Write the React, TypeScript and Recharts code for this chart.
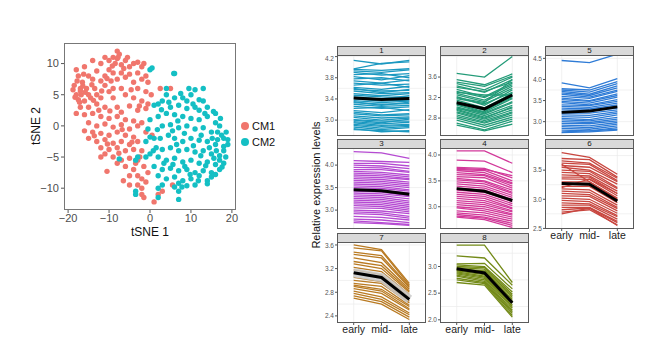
import React from "react";
import {
  ScatterChart,
  Scatter,
  XAxis,
  YAxis,
  ComposedChart,
  Line,
  CartesianGrid,
} from "recharts";

const FONT = '"Liberation Sans", Arial, Helvetica, sans-serif';

// tSNE coordinates
const cm1Points: [number, number][] = [
  [-8, 12], [-7.5, 11.5], [-9, 11], [-8, 10.8], [-11, 11], [-10, 10.5], [-14, 10.5], [-12, 10],
  [-6, 10.5], [-5.5, 11], [-4, 10], [-3, 10.2], [-1.5, 10], [-2, 9.5], [-8.5, 10], [-7, 9.8],
  [-16, 9.5], [-18, 9], [-17.5, 8], [-13, 8.8], [-10, 9], [-9, 8.5], [-7, 8.5], [-5, 8.3],
  [-3, 8.5], [-1, 8], [-0.5, 7], [-2, 7.5], [-4, 7], [-6, 7.8], [-11, 8], [-12, 7.2],
  [-14, 7.5], [-15, 8], [-16.5, 7], [-18.5, 6.5], [-17, 6], [-15.5, 6], [-13.5, 6], [-11, 6.5],
  [-9, 6], [-10, 5.5], [-7, 6], [-3, 6], [-1, 5.5], [0.3, 5], [2.5, 6], [5, 6],
  [-18, 5], [-16.8, 5], [-17.5, 4.2], [-16, 4], [-14.5, 4.5], [-12, 4.5], [-9, 4.5], [-6, 5],
  [-4, 4.5], [-2, 4], [-0.5, 3.5], [-17, 3], [-15, 3], [-13, 3.5], [-11, 3], [-8, 3],
  [-5, 3.2], [-3, 2.5], [-1, 2.8], [-18, 2], [-16, 1.8], [-14, 2], [-12, 1.5], [-10, 1.2],
  [-8, 1.5], [-6, 1], [-4, 0.8], [-2, 0.5], [-15, 0.5], [-13, 0], [-11, 0.3], [-9, -0.2],
  [-7, 0.2], [-5, -0.5], [-3, 0], [-16, -0.8], [-14, -1], [-12, -1.2], [-10, -1.5], [-8, -1],
  [-6, -1.5], [-4, -1.8], [-1, -1], [0.5, -1.5], [-15, -2], [-13, -2.5], [-11, -2.2], [-9, -2.8],
  [-7, -2.5], [-5, -3], [-3, -2.5], [-12, -3.5], [-10, -3.8], [-8, -3.5], [-6, -4], [-4, -3.8],
  [-2, -4], [-9, -5], [-7, -5.5], [-5, -5.2], [-3, -5.5], [-8, -6], [-6, -6.5], [-4, -7],
  [-3.5, -6], [-10.5, -7.3], [-5, -8], [-3, -8], [-2, -8.5], [-6.5, -8.8], [-5, -9.5], [-3, -9.5],
  [-1, -9], [-2, -10], [-2, -11], [-1.5, -11.5], [1, -12.2], [2, -11], [3, -10.5], [5.5, -9.5],
  [-0.5, -7.5], [-1.5, -6.5], [-2.5, -5], [-12, -5], [-11, -4.5], [-17.8, 7.2], [-16.2, 8.3],
  [-18.8, 5.8], [-15, 5], [-13, 5], [-8, 7.5], [-5, 9.5], [-9.5, 7.2], [-12.5, 2.5], [-7, 2.2],
  [-17, 5.6], [-16.4, 6.4], [-18.3, 4.6], [-17.2, 3.8], [-15.8, 5.4], [-14.2, 6.6], [-13.8, 4.1],
  [-11.8, 5.6], [-10.5, 7.6], [-9.2, 9.6], [-7.8, 11], [-6.4, 9.2], [-4.6, 5.8], [-2.6, 3.2],
  [-9.8, 2.4], [-6.8, -0.6], [-10.4, -2.9], [-7.6, -4.4], [-13.6, -1.6], [-4.4, -2.6],
];

const cm2Points: [number, number][] = [
  [0.5, 9.3], [0, 9], [6, 8.4], [5.8, 8.4], [11, 5.8], [13, 6], [4, 5], [6, 4.5],
  [8, 4.5], [9, 4], [10, 5], [3, 4], [2, 3.5], [1, 3.3], [5, 3], [7, 3.3],
  [9, 2.8], [11, 3], [12, 2.5], [14, 3], [15.5, 2.3], [0, 1], [2, 1.5], [4, 2],
  [6, 1.8], [8, 1.5], [10, 1.2], [12, 1], [14, 1.5], [16, 0.5], [17, 0], [3, 0],
  [5, 0.2], [7, -0.3], [9, 0], [11, -0.5], [13, -0.3], [15, -1], [17.5, -1.5], [18, -2],
  [19, -2.2], [1, -2], [2.5, -2], [4.5, -1.5], [6, -2], [8, -2.5], [10, -2], [12, -2.3],
  [14, -2.5], [16, -3], [18, -3.3], [0, -1.8], [-1, -2.5], [1.5, -3.5], [3, -3.8], [5, -3.5],
  [7, -4], [9, -3.8], [11, -4.2], [13, -4], [15, -4.5], [17, -4.8], [18.5, -5], [2, -5],
  [4, -5.5], [6, -5.2], [8, -5.8], [10, -5.5], [12, -6], [14, -5.8], [16, -6.2], [18, -6],
  [1, -6.5], [3, -7], [5, -6.8], [7, -7.2], [9, -7], [11, -7.5], [13, -7.2], [15, -7.5],
  [17, -7], [2, -8], [4, -8.5], [6, -8.2], [8, -8.8], [10, -8.5], [12, -8], [14, -8.8],
  [15, -8.2], [16, -7.8], [3, -9.5], [6, -9.8], [7, -9.2], [9, -9.6], [11, -9.5], [14, -9.3],
  [2, -10], [7, -10.5], [-3.5, -10.5], [-3.5, -11], [2, -11.5], [7, -11.8], [-3, -5], [-3.5, -5.5],
  [-7.5, -5.3], [-1, -5], [0, -4.5], [0.8, -4], [10.5, 3.5], [13, 4], [16, 2], [18, -4],
  [17, -5.5], [19, -3], [16.5, -1], [12.5, -1.5], [5.5, -0.8], [-0.5, -0.5], [4, 6], [7.5, 5.2],
  [9.5, 6], [12, 4.2], [16.5, -2.2], [14.5, -3.5], [6.5, -3], [8.5, -6.5],
  [15.6, -5.2], [17.6, -6.6], [16.2, -4], [18.6, -1], [17.2, 1.2], [15.2, -2], [13.6, -6.4],
  [12.4, -4.8], [10.6, -3.2], [8.4, -1.2], [6.8, 0.8], [4.6, 3.8], [5.6, -6.2], [3.4, -6],
  [7.8, -9.8], [11.8, -8.8], [9.8, -7.8], [1.8, -0.6], [2.8, 2.6], [13.4, 2],
];

const stageLabels = ["early", "mid-", "late"];

// expression profiles per cluster: [early, mid-, late]
const cluster1Lines = [
  [4.13, 4.06, 4.13], [3.97, 4.07, 4.1], [3.96, 3.94, 3.97], [3.93, 3.9, 3.95], [3.9, 3.85, 3.88],
  [3.86, 3.88, 3.8], [3.82, 3.76, 3.84], [3.78, 3.8, 3.74], [3.74, 3.7, 3.76], [3.7, 3.66, 3.68],
  [3.66, 3.7, 3.62], [3.62, 3.58, 3.64], [3.58, 3.55, 3.56], [3.55, 3.5, 3.52], [3.5, 3.46, 3.5],
  [3.47, 3.44, 3.43], [3.44, 3.4, 3.46], [3.4, 3.36, 3.38], [3.37, 3.33, 3.36], [3.33, 3.3, 3.31],
  [3.3, 3.26, 3.28], [3.26, 3.22, 3.25], [3.22, 3.24, 3.18], [3.18, 3.14, 3.2], [3.15, 3.1, 3.12],
  [3.12, 3.08, 3.1], [3.08, 3.04, 3.06], [3.05, 3.0, 3.04], [3.01, 2.98, 2.98], [2.97, 2.93, 2.96],
  [2.95, 2.9, 2.92], [2.92, 2.88, 2.9], [2.9, 2.85, 2.88], [2.87, 2.82, 2.86], [2.84, 2.78, 2.8],
  [2.82, 2.8, 2.78], [3.6, 3.52, 3.58], [3.35, 3.28, 3.34], [3.0, 2.95, 3.02],
];
const cluster1Mean = [3.42, 3.39, 3.41];

const cluster2Lines = [
  [3.67, 3.6, 4.0], [3.55, 3.45, 3.66], [3.5, 3.42, 3.62], [3.47, 3.35, 3.6], [3.43, 3.3, 3.55],
  [3.4, 3.32, 3.5], [3.36, 3.22, 3.48], [3.32, 3.2, 3.45], [3.28, 3.15, 3.42], [3.25, 3.12, 3.38],
  [3.22, 3.05, 3.35], [3.18, 3.08, 3.3], [3.15, 3.0, 3.28], [3.12, 2.98, 3.22], [3.1, 2.95, 3.2],
  [3.07, 2.92, 3.18], [3.05, 2.9, 3.12], [3.02, 2.88, 3.1], [3.0, 2.85, 3.05], [2.97, 2.82, 3.0],
  [2.95, 2.8, 3.02], [2.92, 2.78, 2.96], [2.9, 2.75, 2.92], [2.86, 2.72, 2.9], [2.83, 2.7, 2.86],
  [2.8, 2.66, 2.82], [2.76, 2.62, 2.78], [2.7, 2.57, 2.74], [2.66, 2.55, 2.68], [3.2, 3.1, 3.55],
  [2.98, 2.92, 3.3], [3.3, 3.25, 3.25],
];
const cluster2Mean = [3.1, 2.98, 3.25];

const cluster5Lines = [
  [4.45, 4.4, 4.6], [3.92, 3.8, 4.02], [3.78, 3.75, 3.95], [3.75, 3.7, 3.9], [3.72, 3.65, 3.85],
  [3.68, 3.62, 3.8], [3.65, 3.58, 3.75], [3.6, 3.55, 3.72], [3.56, 3.5, 3.66], [3.52, 3.48, 3.62],
  [3.48, 3.44, 3.58], [3.45, 3.4, 3.52], [3.4, 3.38, 3.48], [3.36, 3.34, 3.44], [3.32, 3.3, 3.4],
  [3.28, 3.27, 3.36], [3.24, 3.25, 3.32], [3.2, 3.2, 3.28], [3.16, 3.15, 3.24], [3.12, 3.1, 3.2],
  [3.08, 3.05, 3.16], [3.04, 3.02, 3.1], [3.0, 2.98, 3.06], [2.96, 2.95, 3.02], [2.92, 2.9, 2.98],
  [2.88, 2.86, 2.94], [2.84, 2.82, 2.9], [2.8, 2.78, 2.86], [2.76, 2.78, 2.82], [2.74, 2.76, 2.8],
];
const cluster5Mean = [3.22, 3.25, 3.35];

const cluster3Lines = [
  [4.3, 4.27, 4.15], [4.1, 4.08, 4.06], [4.04, 4.04, 3.98], [4.0, 3.98, 3.92], [3.95, 3.94, 3.86],
  [3.9, 3.9, 3.84], [3.86, 3.84, 3.78], [3.82, 3.8, 3.74], [3.78, 3.76, 3.7], [3.74, 3.72, 3.68],
  [3.7, 3.68, 3.62], [3.66, 3.64, 3.58], [3.62, 3.6, 3.54], [3.58, 3.56, 3.5], [3.54, 3.52, 3.45],
  [3.5, 3.48, 3.42], [3.46, 3.44, 3.38], [3.42, 3.4, 3.32], [3.38, 3.36, 3.3], [3.34, 3.32, 3.25],
  [3.3, 3.28, 3.2], [3.26, 3.24, 3.16], [3.22, 3.2, 3.12], [3.18, 3.16, 3.08], [3.14, 3.12, 3.04],
  [3.1, 3.08, 3.0], [3.05, 3.04, 2.96], [3.0, 2.98, 2.92], [2.96, 2.94, 2.86], [2.92, 2.9, 2.82],
  [2.86, 2.84, 2.78], [2.8, 2.78, 2.72], [2.76, 2.72, 2.68], [2.72, 2.7, 2.66],
];
const cluster3Mean = [3.45, 3.43, 3.35];

const cluster4Lines = [
  [4.08, 4.08, 3.84], [3.9, 3.88, 3.66], [3.76, 3.74, 3.56], [3.74, 3.72, 3.6], [3.72, 3.7, 3.5],
  [3.7, 3.66, 3.46], [3.66, 3.62, 3.44], [3.62, 3.6, 3.4], [3.58, 3.56, 3.36], [3.55, 3.5, 3.32],
  [3.52, 3.48, 3.28], [3.48, 3.44, 3.26], [3.44, 3.4, 3.22], [3.4, 3.36, 3.18], [3.36, 3.32, 3.14],
  [3.32, 3.28, 3.1], [3.28, 3.24, 3.06], [3.24, 3.2, 3.02], [3.2, 3.16, 2.98], [3.16, 3.12, 2.96],
  [3.12, 3.08, 2.92], [3.08, 3.04, 2.9], [3.04, 3.0, 2.86], [3.0, 2.96, 2.84], [2.98, 2.92, 2.8],
  [2.92, 2.88, 2.76], [2.88, 2.84, 2.72], [2.85, 2.8, 2.68], [2.82, 2.78, 2.64], [2.8, 2.75, 2.6],
];
const cluster4Mean = [3.35, 3.3, 3.12];

const cluster6Lines = [
  [3.8, 3.72, 3.43], [3.7, 3.68, 3.38], [3.66, 3.62, 3.36], [3.62, 3.6, 3.32], [3.58, 3.55, 3.3],
  [3.55, 3.5, 3.26], [3.5, 3.48, 3.2], [3.46, 3.44, 3.18], [3.42, 3.4, 3.14], [3.38, 3.38, 3.1],
  [3.35, 3.34, 3.06], [3.3, 3.3, 3.02], [3.26, 3.25, 2.98], [3.22, 3.22, 2.94], [3.18, 3.16, 2.9],
  [3.14, 3.12, 2.86], [3.1, 3.08, 2.84], [3.06, 3.05, 2.8], [3.02, 3.0, 2.76], [2.98, 2.96, 2.72],
  [2.94, 2.92, 2.7], [2.9, 2.9, 2.66], [2.86, 2.86, 2.62], [2.82, 2.85, 2.6], [2.78, 2.82, 2.56],
  [2.75, 2.85, 2.55], [3.6, 3.3, 3.0], [3.2, 3.35, 3.1],
];
const cluster6Mean = [3.27, 3.26, 2.97];

const cluster7Lines = [
  [3.6, 3.52, 2.95], [3.55, 3.5, 2.92], [3.48, 3.42, 2.9], [3.44, 3.38, 2.88], [3.38, 3.3, 2.85],
  [3.32, 3.25, 2.82], [3.28, 3.2, 2.8], [3.22, 3.15, 2.76], [3.18, 3.1, 2.72], [3.12, 3.05, 2.7],
  [3.05, 2.98, 2.65], [3.0, 2.95, 2.62], [2.95, 2.9, 2.58], [2.92, 2.85, 2.56], [2.9, 2.82, 2.52],
  [2.86, 2.78, 2.5], [2.82, 2.72, 2.45], [2.78, 2.68, 2.42], [2.74, 2.64, 2.38], [2.7, 2.6, 2.34],
];
const cluster7Mean = [3.13, 3.05, 2.68];

const cluster8Lines = [
  [3.4, 3.4, 2.7], [3.2, 3.16, 2.65], [3.05, 3.06, 2.58], [3.03, 3.0, 2.52], [3.0, 2.98, 2.48],
  [2.98, 2.95, 2.45], [2.96, 2.92, 2.42], [2.95, 2.9, 2.38], [2.93, 2.88, 2.35], [2.92, 2.85, 2.32],
  [2.9, 2.82, 2.28], [2.88, 2.8, 2.25], [2.86, 2.78, 2.22], [2.84, 2.75, 2.18], [2.82, 2.72, 2.15],
  [2.78, 2.7, 2.12], [2.75, 2.68, 2.08], [2.7, 2.65, 2.05],
];
const cluster8Mean = [2.96, 2.88, 2.32];

// facet grid geometry
const COL_X = [337, 440, 545];
const ROW_Y = [55, 148, 242];
const PW = 89;
const PH = 81;
const STRIP_H = 9;
const YW = 20;

type FacetSpec = {
  id: string;
  lines: number[][];
  mean: number[];
  ribbon?: boolean;
  color: string;
  domain: [number, number];
  ticks: number[];
  col: number;
  row: number;
  showX: boolean;
};

const facets: FacetSpec[] = [
  { id: "1", lines: cluster1Lines, mean: cluster1Mean, color: "#1B98C0", domain: [2.7, 4.23], ticks: [3.0, 3.4, 3.8, 4.2], col: 0, row: 0, showX: false },
  { id: "2", lines: cluster2Lines, mean: cluster2Mean, color: "#239B78", domain: [2.45, 4.03], ticks: [2.8, 3.2, 3.6], col: 1, row: 0, showX: false },
  { id: "5", lines: cluster5Lines, mean: cluster5Mean, color: "#2E7BD6", domain: [2.66, 4.58], ticks: [3.0, 3.5, 4.0, 4.5], col: 2, row: 0, showX: false },
  { id: "3", lines: cluster3Lines, mean: cluster3Mean, color: "#B54AD2", domain: [2.58, 4.38], ticks: [3.0, 3.5, 4.0], col: 0, row: 1, showX: false },
  { id: "4", lines: cluster4Lines, mean: cluster4Mean, color: "#D2399A", domain: [2.57, 4.135], ticks: [3.0, 3.5, 4.0], col: 1, row: 1, showX: false },
  { id: "6", lines: cluster6Lines, mean: cluster6Mean, color: "#C8463F", domain: [2.49, 3.88], ticks: [2.5, 3.0, 3.5], col: 2, row: 1, showX: true },
  { id: "7", lines: cluster7Lines, mean: cluster7Mean, ribbon: true, color: "#B97A22", domain: [2.28, 3.65], ticks: [2.4, 2.8, 3.2, 3.6], col: 0, row: 2, showX: true },
  { id: "8", lines: cluster8Lines, mean: cluster8Mean, color: "#738A17", domain: [1.94, 3.46], ticks: [2.0, 2.5, 3.0], col: 1, row: 2, showX: true },
];

const RED = "#F0766D";
const CYAN = "#14BFC4";

function gridValues(ticks: number[], domain: [number, number]) {
  const step = ticks[1] - ticks[0];
  const out: number[] = [];
  for (let v = ticks[0] - step / 2; v <= domain[1]; v += step / 2) {
    if (v >= domain[0]) out.push(v);
  }
  return out;
}

function Facet({ spec }: { spec: FacetSpec }) {
  const left = COL_X[spec.col];
  const top = ROW_Y[spec.row];
  const data = stageLabels.map((_, i) => {
    const d: Record<string, any> = { stage: i, mean: spec.mean[i] };
    spec.lines.forEach((l, j) => {
      d[`l${j}`] = l[i];
    });
    return d;
  });
  return (
    <>
      <div
        style={{
          position: "absolute",
          left,
          top: top - STRIP_H,
          width: PW,
          height: STRIP_H + 1,
          background: "#d9d9d9",
          border: "1px solid #5a5a5a",
          boxSizing: "border-box",
          fontSize: 8,
          lineHeight: "8px",
          textAlign: "center",
          color: "#1a1a1a",
        }}
      >
        {spec.id}
      </div>
      <div style={{ position: "absolute", left: left - YW, top }}>
        <ComposedChart
          width={PW + YW}
          height={PH + (spec.showX ? 16 : 0)}
          data={data}
          margin={{ top: 0, right: 0, bottom: 0, left: 0 }}
        >
          <CartesianGrid
            stroke="#ebebeb"
            strokeWidth={0.7}
            horizontalValues={gridValues(spec.ticks, spec.domain)}
            verticalValues={[0, 1, 2]}
          />
          <XAxis
            type="number"
            dataKey="stage"
            domain={[-0.6, 2.6]}
            ticks={[0, 1, 2]}
            tickFormatter={(v: number) => stageLabels[v]}
            hide={!spec.showX}
            height={16}
            tick={{ fontSize: 10.5, fill: "#222", fontFamily: FONT }}
            tickSize={2}
            tickMargin={1}
            axisLine={false}
            stroke="#555"
            allowDataOverflow
          />
          <YAxis
            type="number"
            domain={spec.domain}
            ticks={spec.ticks}
            width={YW}
            tick={{ fontSize: 6.5, fill: "#555", fontFamily: FONT }}
            tickFormatter={(v: number) => v.toFixed(1)}
            tickSize={2}
            tickMargin={1}
            axisLine={false}
            stroke="#555"
            allowDataOverflow
          />
          {spec.lines.map((_, j) => (
            <Line
              key={j}
              dataKey={`l${j}`}
              stroke={spec.color}
              strokeWidth={1.3}
              dot={false}
              activeDot={false}
              isAnimationActive={false}
            />
          ))}
          {spec.ribbon && (
            <Line
              dataKey="mean"
              stroke="#c9c9c9"
              strokeOpacity={0.85}
              strokeWidth={9}
              dot={false}
              activeDot={false}
              isAnimationActive={false}
            />
          )}
          <Line
            dataKey="mean"
            stroke="#000"
            strokeWidth={3}
            dot={false}
            activeDot={false}
            isAnimationActive={false}
          />
        </ComposedChart>
      </div>
      <div
        style={{
          position: "absolute",
          left,
          top,
          width: PW,
          height: PH,
          border: "1px solid #5a5a5a",
          boxSizing: "border-box",
          pointerEvents: "none",
        }}
      />
    </>
  );
}

const minus = (v: number) => String(v).replace("-", "\u2212");

export default function App() {
  const cm1 = cm1Points.map(([x, y]) => ({ x, y }));
  const cm2 = cm2Points.map(([x, y]) => ({ x, y }));
  return (
    <div
      style={{
        position: "absolute",
        left: 0,
        top: 0,
        width: 664,
        height: 362,
        background: "#fff",
        overflow: "hidden",
        fontFamily: FONT,
      }}
    >
      <div style={{ position: "absolute", left: 0, top: 0 }}>
        <ScatterChart
          width={240}
          height={240}
          margin={{ top: 43, right: 4, bottom: 10, left: 30 }}
        >
          <XAxis
            type="number"
            dataKey="x"
            domain={[-21, 21]}
            ticks={[-20, -10, 0, 10, 20]}
            tickFormatter={minus}
            height={20}
            tick={{ fontSize: 11, fill: "#4d4d4d", fontFamily: FONT }}
            tickSize={3}
            tickMargin={1}
            axisLine={false}
            stroke="#555"
            allowDataOverflow
          />
          <YAxis
            type="number"
            dataKey="y"
            domain={[-13.5, 13.3]}
            ticks={[-10, -5, 0, 5, 10]}
            tickFormatter={minus}
            width={34}
            tick={{ fontSize: 11, fill: "#4d4d4d", fontFamily: FONT }}
            tickSize={3}
            tickMargin={2}
            axisLine={false}
            stroke="#555"
            allowDataOverflow
          />
          <Scatter
            data={cm1}
            isAnimationActive={false}
            shape={(p: any) => <circle cx={p.cx} cy={p.cy} r={2.7} fill={RED} />}
          />
          <Scatter
            data={cm2}
            isAnimationActive={false}
            shape={(p: any) => <circle cx={p.cx} cy={p.cy} r={2.7} fill={CYAN} />}
          />
        </ScatterChart>
      </div>
      <div
        style={{
          position: "absolute",
          left: 64,
          top: 43,
          width: 172,
          height: 167,
          border: "1px solid #777",
          boxSizing: "border-box",
        }}
      />
      <div style={{ position: "absolute", left: 110, top: 225, width: 80, textAlign: "center", fontSize: 12, color: "#111" }}>
        tSNE 1
      </div>
      <div
        style={{
          position: "absolute",
          left: 36,
          top: 126,
          fontSize: 12,
          color: "#111",
          transform: "translate(-50%, -50%) rotate(-90deg)",
          whiteSpace: "nowrap",
        }}
      >
        tSNE 2
      </div>
      {[
        { label: "CM1", color: RED, y: 126 },
        { label: "CM2", color: CYAN, y: 142 },
      ].map((it) => (
        <React.Fragment key={it.label}>
          <div
            style={{
              position: "absolute",
              left: 241,
              top: it.y - 4,
              width: 8,
              height: 8,
              borderRadius: 4,
              background: it.color,
            }}
          />
          <div style={{ position: "absolute", left: 252, top: it.y - 7, fontSize: 11, lineHeight: "14px", color: "#111" }}>
            {it.label}
          </div>
        </React.Fragment>
      ))}
      <div
        style={{
          position: "absolute",
          left: 316,
          top: 185,
          fontSize: 11,
          color: "#111",
          transform: "translate(-50%, -50%) rotate(-90deg)",
          whiteSpace: "nowrap",
        }}
      >
        Relative expression levels
      </div>
      {facets.map((f) => (
        <Facet key={f.id} spec={f} />
      ))}
    </div>
  );
}
